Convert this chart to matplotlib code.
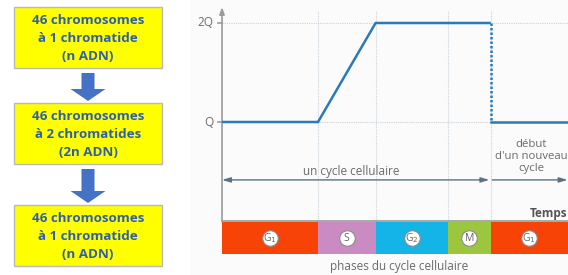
import matplotlib.pyplot as plt
from matplotlib.patches import Rectangle, FancyArrow

plt.rcParams['font.family'] = ['Open Sans', 'DejaVu Sans']

# left panel: stages of the DNA content
box_texts = [
    "46 chromosomes\nà 1 chromatide\n(n ADN)",
    "46 chromosomes\nà 2 chromatides\n(2n ADN)",
    "46 chromosomes\nà 1 chromatide\n(n ADN)",
]

# right panel: DNA quantity over one cell cycle
phase_names = ["G$_1$", "S", "G$_2$", "M", "G$_1$"]
phase_bounds = [0, 10, 16, 23.5, 28, 36]
phase_colors = ["#f74306", "#c98bc2", "#14b4e6", "#9cc63e", "#f74306"]
curve_t = [0, 10, 16, 28]
curve_q = [1, 1, 2, 2]
division_t = 28
after_t = [28, 36]
after_q = [1, 1]
ytick_vals = [1, 2]
ytick_labels = ["Q", "2Q"]

W, H = 568, 275
fig = plt.figure(figsize=(W / 100, H / 100), dpi=100)

# ---------- left: yellow boxes ----------
axl = fig.add_axes([0, 0, 190 / W, 1])
axl.set_xlim(0, 190)
axl.set_ylim(H, 0)
axl.axis("off")

box_x, box_w, box_h = 14, 148, 61
box_tops = [7, 103, 205]
for top, txt in zip(box_tops, box_texts):
    axl.add_patch(Rectangle((box_x, top), box_w, box_h, facecolor="#ffff00",
                            edgecolor="#b8b8b8", lw=1))
    axl.text(box_x + box_w / 2, top + box_h / 2 + 1, txt, ha="center", va="center",
             fontsize=9.6, fontweight="bold", color="#2f5fa8", linespacing=1.45)

for i in range(len(box_tops) - 1):
    y0 = box_tops[i] + box_h + 5
    y1 = box_tops[i + 1] - 2
    axl.add_patch(FancyArrow(88, y0, 0, y1 - y0, width=13, head_width=35,
                             head_length=12, length_includes_head=True,
                             color="#4472c4", lw=0))

# ---------- right: chart ----------
px = 9.6      # pixels per time unit
py = 99       # pixels per Q
x0px, y0px = 222, 221
ax = fig.add_axes([190 / W, 0, 1 - 190 / W, 1])
ax.set_xlim(-(x0px - 190) / px, (W - x0px) / px)
ax.set_ylim(-(H - y0px) / py, y0px / py)
ax.axis("off")
ax.add_patch(Rectangle((0, 0), 1, 1, transform=ax.transAxes, facecolor="#fbfbfc",
                       edgecolor="none", zorder=0))

top = 2.12
grid_kw = dict(color="#c9d3dc", lw=0.8, ls=(0, (1, 1)), zorder=1)
for b in phase_bounds[1:-1]:
    ax.plot([b, b], [0, top], **grid_kw)
for v in ytick_vals:
    ax.plot([0, phase_bounds[-1]], [v, v], **grid_kw)

# y axis with arrow
ax.annotate("", xy=(0, top + 0.04), xytext=(0, 0),
            arrowprops=dict(arrowstyle="-|>,head_length=0.4,head_width=0.15",
                            color="#9a9a9a", lw=1.2, shrinkA=0, shrinkB=0), zorder=3)
ax.plot([0, phase_bounds[-1]], [0, 0], color="#9a9a9a", lw=1.2, zorder=3)
for v, lab in zip(ytick_vals, ytick_labels):
    ax.plot([-0.4, 0], [v, v], color="#9a9a9a", lw=1.2, zorder=3)
    ax.text(-0.9, v, lab, ha="right", va="center", fontsize=8.5, color="#6b6b6b")

# curve
line_c = "#2a7ab8"
ax.plot(curve_t, curve_q, color=line_c, lw=1.8, zorder=4, solid_capstyle="butt")
ax.plot([division_t, division_t], [2, 1], color=line_c, lw=1.8, ls=(0, (1, 0.8)), zorder=4)
ax.plot(after_t, after_q, color=line_c, lw=1.8, zorder=4)

# phase bars
bar_top, bar_bot = -0.01, -0.335
for i, name in enumerate(phase_names):
    a, b = phase_bounds[i], phase_bounds[i + 1]
    ax.add_patch(Rectangle((a, bar_bot), b - a, bar_top - bar_bot,
                           facecolor=phase_colors[i], edgecolor="none", zorder=2))
    cx, cy = (a + b) / 2, (bar_top + bar_bot) / 2
    ax.scatter([cx], [cy], s=125, facecolor="white", edgecolor="#8a8a8a",
               lw=0.8, zorder=5)
    ax.text(cx, cy, name, ha="center", va="center", fontsize=7.5, color="#666666", zorder=6)

ax.text((phase_bounds[0] + phase_bounds[-1]) / 2 + 0.5, -0.455, "phases du cycle cellulaire",
        ha="center", va="center", fontsize=8.5, color="#6b6b6b")

# cycle arrows
arr_y = 0.415
arr_c = "#5b7282"
ax.annotate("", xy=(0, arr_y), xytext=(division_t - 0.15, arr_y),
            arrowprops=dict(arrowstyle="<|-|>,head_length=0.5,head_width=0.15",
                            color=arr_c, lw=1, shrinkA=0, shrinkB=0))
ax.annotate("", xy=(division_t + 0.15, arr_y), xytext=(phase_bounds[-1], arr_y),
            arrowprops=dict(arrowstyle="<|-,head_length=0.5,head_width=0.15",
                            color=arr_c, lw=1, shrinkA=0, shrinkB=0))
ax.text(13.5, 0.5, "un cycle cellulaire", ha="center", va="center",
        fontsize=8.5, color="#6b6b6b")
ax.text(32.2, 0.65, "début\nd'un nouveau\ncycle", ha="center", va="center",
        fontsize=8.2, color="#6b6b6b", linespacing=1.15)
ax.text(phase_bounds[-1], 0.08, "Temps", ha="right", va="center",
        fontsize=8.5, fontweight="bold", color="#555555")

fig.savefig("out.png", dpi=100)
